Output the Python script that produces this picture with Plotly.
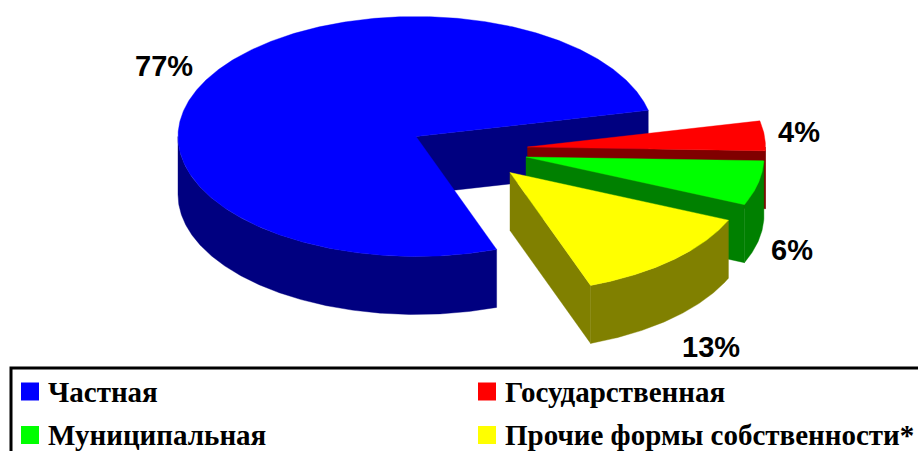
import numpy as np
import plotly.graph_objects as go

categories = ["Частная", "Государственная", "Муниципальная", "Прочие формы собственности*"]
values = [77, 4, 6, 13]
labels = ["77%", "4%", "6%", "13%"]
top_colors = ["#0000ff", "#ff0000", "#00ff00", "#ffff00"]
wall_colors = ["#000080", "#800000", "#008000", "#808000"]

# view geometry of the tilted pie (pixels)
RX, RY, DEPTH = 238, 120, 58
START_DEG = 12.6
apexes = {0: (416, 136.5), 1: (527.5, 147), 2: (526, 157), 3: (510, 172.5)}
label_xy = {0: (164, 65.5), 1: (799, 132), 2: (792, 250), 3: (711, 347)}
legend_xy = {0: (21, 391.5), 1: (478, 391.5), 2: (21, 435), 3: (478, 435)}

# clockwise from START_DEG: state, municipal, other, then private closes the circle
order = [1, 2, 3, 0]
spans = {}
a = START_DEG
for i in order:
    b = a - values[i] / sum(values) * 360
    spans[i] = (a, b)
    a = b


def rim(i, a0, a1, dy=0):
    cx, cy = apexes[i]
    t = np.radians(np.linspace(a0, a1, max(2, int(abs(a1 - a0) * 2) + 2)))
    return cx + RX * np.cos(t), cy - RY * np.sin(t) + dy


fig = go.Figure()


def poly(x, y, color, name):
    fig.add_trace(go.Scatter(
        x=list(x) + [x[0]], y=list(y) + [y[0]], mode="lines", fill="toself",
        fillcolor=color, line=dict(color=color, width=0.4),
        hoverinfo="text", text=name, showlegend=False))


def cut_face(i, ang):
    cx, cy = apexes[i]
    ex, ey = rim(i, ang, ang)
    poly([cx, ex[0], ex[0], cx], [cy, ey[0], ey[0] + DEPTH, cy + DEPTH], wall_colors[i], categories[i])


def outer_wall(i, a0, a1):
    # only the front half of the rim (below the ellipse centre line) is visible
    lo, hi = max(min(a0, a1), -180), min(max(a0, a1), 0)
    if hi <= lo:
        return
    xt, yt = rim(i, hi, lo)
    xb, yb = rim(i, lo, hi, DEPTH)
    poly(np.r_[xt, xb], np.r_[yt, yb], wall_colors[i], categories[i])


def top(i, a0, a1):
    cx, cy = apexes[i]
    x, y = rim(i, a0, a1)
    poly(np.r_[cx, x], np.r_[cy, y], top_colors[i], categories[i])


# private slice: its far cut face shows through the gap; the rim runs on round the left
a0, a1 = spans[0]
cut_face(0, a1)
outer_wall(0, a0, -180)
top(0, a0, a1)

# exploded slices, back to front
for i in [1, 2, 3]:
    a0, a1 = spans[i]
    cut_face(i, a1)
    outer_wall(i, a0, a1)
    top(i, a0, a1)

annotations = []
for i, lab in enumerate(labels):
    annotations.append(dict(x=label_xy[i][0], y=label_xy[i][1], text=f"<b>{lab}</b>", showarrow=False,
                            xanchor="center", yanchor="middle",
                            font=dict(family="Liberation Sans", size=29, color="black")))

for i, cat in enumerate(categories):
    lx, ly = legend_xy[i]
    fig.add_trace(go.Scatter(x=[lx + 9], y=[ly], mode="markers", showlegend=False, hoverinfo="text", text=cat,
                             marker=dict(symbol="square", size=18, color=top_colors[i], line=dict(width=0))))
    annotations.append(dict(x=lx + 25, y=ly, text=f"<b>{cat}</b>", showarrow=False, xanchor="left", yanchor="middle",
                            font=dict(family="Liberation Serif", size=29, color="black")))

fig.update_layout(
    width=918, height=451, margin=dict(l=0, r=0, t=0, b=0), paper_bgcolor="white", plot_bgcolor="white",
    xaxis=dict(range=[0, 918], visible=False, fixedrange=True),
    yaxis=dict(range=[451, 0], visible=False, fixedrange=True),
    annotations=annotations,
    shapes=[dict(type="rect", xref="x", yref="y", x0=11, y0=368, x1=940, y1=470,
                 line=dict(color="black", width=3), fillcolor="rgba(0,0,0,0)", layer="below")],
)
fig.write_html("out.html", config={"displayModeBar": False},
               post_script="document.body.style.margin='0';document.body.style.overflow='hidden';")
